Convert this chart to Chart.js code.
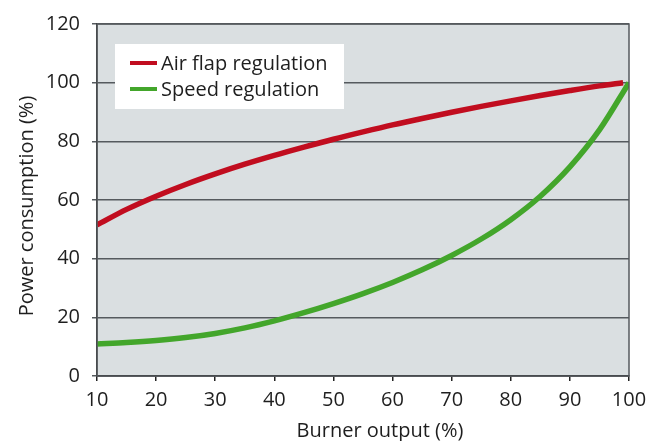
<!DOCTYPE html>
<html>
<head>
<meta charset="utf-8">
<script src="https://cdn.jsdelivr.net/npm/chart.js@4"></script>
<style>
html,body{margin:0;padding:0;background:#fff;}
#wrap{width:662px;height:441px;position:relative;}
</style>
</head>
<body>
<div id="wrap"><canvas id="c" width="662" height="441"></canvas></div>
<script>
const burnerOutput = [10, 15, 20, 25, 30, 35, 40, 45, 50, 55, 60, 65, 70, 75, 80, 85, 90, 95, 99];
const airFlap =      [51.5, 56.8, 61.3, 65.3, 68.9, 72.2, 75.2, 78.0, 80.7, 83.2, 85.6, 87.8, 89.9, 91.9, 93.8, 95.6, 97.3, 98.9, 100];
const speedOutput =  [10, 15, 20, 25, 30, 35, 40, 45, 50, 55, 60, 65, 70, 75, 80, 85, 90, 95, 100];
const speedReg =     [10.9, 11.4, 12.1, 13.1, 14.5, 16.4, 18.8, 21.6, 24.7, 28.1, 31.9, 36.2, 41.1, 46.7, 53.3, 61.3, 71.3, 83.9, 100];
const seriesNames = ["Air flap regulation", "Speed regulation"];
const xTicks = [10, 20, 30, 40, 50, 60, 70, 80, 90, 100];
const yTicks = [0, 20, 40, 60, 80, 100, 120];
const xTitle = "Burner output (%)";
const yTitle = "Power consumption (%)";

const FONT = "'Open Sans', Lato, sans-serif";
const FS = 20;
const TXT = '#1e1e1e';

const bgPlugin = {
  id: 'plotbg',
  beforeDraw(chart) {
    const {ctx, chartArea: a} = chart;
    ctx.save();
    ctx.fillStyle = '#dadfe1';
    ctx.fillRect(a.left, a.top, a.right - a.left, a.bottom - a.top);
    ctx.restore();
  },
  afterDatasetsDraw(chart) {
    const {ctx, chartArea: a} = chart;
    ctx.save();
    // frame
    ctx.strokeStyle = '#555a5e';
    ctx.lineWidth = 1.5;
    ctx.strokeRect(a.left, a.top, a.right - a.left, a.bottom - a.top);
    // legend box
    const bx = a.left + 18, by = a.top + 20, bw = 229, bh = 65;
    ctx.fillStyle = '#ffffff';
    ctx.fillRect(bx, by, bw, bh);
    ctx.font = FS + 'px ' + FONT;
    ctx.textBaseline = 'middle';
    chart.data.datasets.forEach((ds, i) => {
      const y = by + 19 + i * 26;
      ctx.strokeStyle = ds.borderColor;
      ctx.lineWidth = 4;
      ctx.beginPath();
      ctx.moveTo(bx + 15, y);
      ctx.lineTo(bx + 42, y);
      ctx.stroke();
      ctx.fillStyle = TXT;
      ctx.fillText(ds.label, bx + 46, y + 1);
    });
    // axis titles
    ctx.font = FS + 'px ' + FONT;
    ctx.textAlign = 'center';
    ctx.textBaseline = 'middle';
    ctx.fillStyle = TXT;
    ctx.fillText(xTitle, 380, 431);
    ctx.translate(27, 206);
    ctx.rotate(-Math.PI / 2);
    ctx.fillText(yTitle, 0, 0);
    ctx.restore();
  }
};

new Chart(document.getElementById('c'), {
  type: 'line',
  data: {
    datasets: [
      {
        label: seriesNames[0],
        data: burnerOutput.map((x, i) => ({x, y: airFlap[i]})),
        borderColor: '#c10d1f',
        borderWidth: 5.5,
        pointRadius: 0,
        cubicInterpolationMode: 'monotone',
        fill: false
      },
      {
        label: seriesNames[1],
        data: speedOutput.map((x, i) => ({x, y: speedReg[i]})),
        borderColor: '#43a62b',
        borderWidth: 5.5,
        pointRadius: 0,
        cubicInterpolationMode: 'monotone',
        fill: false
      }
    ]
  },
  options: {
    responsive: false,
    animation: false,
    devicePixelRatio: 1,
    layout: { padding: { left: 0, right: 33, top: 21, bottom: 0 } },
    plugins: { legend: { display: false }, tooltip: { enabled: false } },
    scales: {
      x: {
        type: 'linear',
        min: 10, max: 100,
        afterBuildTicks(scale) { scale.ticks = xTicks.map(v => ({value: v})); },
        afterFit(scale) { scale.height = 65; },
        grid: { display: true, drawOnChartArea: false, drawTicks: true, tickLength: 5, color: '#222', lineWidth: 1.5 },
        border: { color: '#222', width: 1.5 },
        ticks: { color: TXT, font: { family: FONT, size: FS }, padding: 7, maxRotation: 0 },
        title: { display: false, text: xTitle }
      },
      y: {
        type: 'linear',
        min: 0, max: 120,
        afterBuildTicks(scale) { scale.ticks = yTicks.map(v => ({value: v})); },
        afterFit(scale) { scale.width = 97; },
        grid: { color: '#555a5e', lineWidth: 1.5, tickLength: 5 },
        border: { color: '#222', width: 1.5 },
        ticks: { color: TXT, font: { family: FONT, size: FS }, padding: 12 },
        title: { display: false, text: yTitle }
      }
    }
  },
  plugins: [bgPlugin]
});
</script>
</body>
</html>
